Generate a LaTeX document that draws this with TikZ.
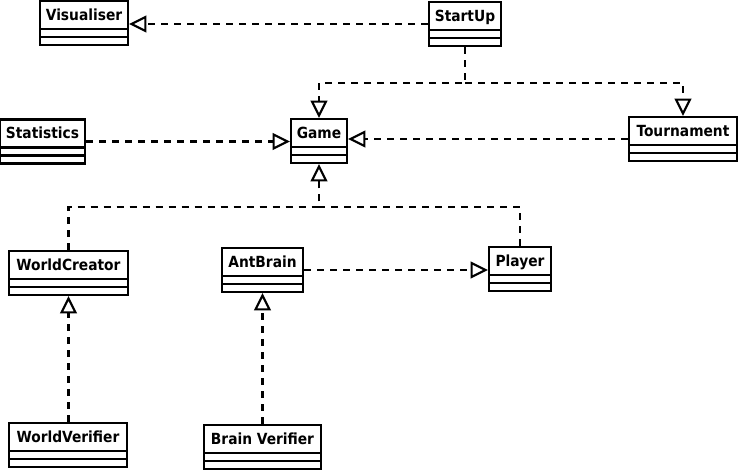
\documentclass[tikz,border=0pt]{standalone}
\usepackage{fontspec}
\setsansfont{DejaVu Sans Condensed}
\usepackage{tikz}
\usetikzlibrary{arrows.meta}

\begin{document}
\begin{tikzpicture}[x=0.75pt,y=0.75pt,yscale=-1,xscale=1,
  classbox/.style={draw, line width=1.6pt, rectangle, inner xsep=0pt, inner ysep=0pt,
    minimum height=33pt, text height=14.5pt, text depth=18.5pt,
    font=\sffamily\bfseries\fontsize{11.5}{13}\selectfont,
    path picture={\draw[line width=1.6pt]
      ([yshift=-21pt]path picture bounding box.north west) -- ([yshift=-21pt]path picture bounding box.north east)
      ([yshift=-27pt]path picture bounding box.north west) -- ([yshift=-27pt]path picture bounding box.north east);}},
  realize/.style={line width=1.6pt, dash pattern=on 5.25pt off 4.5pt,
    -{Triangle[open, length=13pt, width=12.5pt]}},
  plain/.style={line width=1.6pt, dash pattern=on 5.25pt off 4.5pt}]
\useasboundingbox (0,0) rectangle (740,472);

%Shape: Classes
\node[classbox, minimum width=66pt] (vis) at (84,23) {Visualiser};
\node[classbox, minimum width=54pt] (su) at (465,24) {StartUp};
\node[classbox, minimum width=42pt] (game) at (319,141) {Game};
\node[classbox, minimum width=63.75pt] (stat) at (42.5,141.5) {Statistics};
\node[classbox, minimum width=81pt] (tour) at (683,139) {Tournament};
\node[classbox, minimum width=89.25pt] (wc) at (68.5,273) {WorldCreator};
\node[classbox, minimum width=60.75pt] (ab) at (262.5,270) {AntBrain};
\node[classbox, minimum width=46.5pt] (pl) at (520,269) {Player};
\node[classbox, minimum width=88.5pt] (wv) at (68,445) {WorldVerifier};
\node[classbox, minimum width=87.75pt] (bv) at (262.5,447) {Brain Verifier};

%Fork points
\path (su.south) -- ++(0,36) coordinate (sufork);
\path (game.south) -- ++(0,43) coordinate (gamefork);

%Connectors
\draw[realize] (su.west) -- (su.west -| vis.east);
\draw[realize] (su.south) -- (sufork) -| (game.north);
\draw[realize] (sufork) -| (tour.north);
\draw[realize] (stat.east) -- (stat.east -| game.west);
\draw[realize] (tour.west) -- (tour.west -| game.east);
\draw[realize] (wc.north) |- (gamefork) -- (game.south);
\draw[plain] (pl.north) |- (gamefork);
\draw[realize] (ab.east) -- (ab.east -| pl.west);
\draw[realize] (wv.north -| wc.south) -- (wc.south);
\draw[realize] (bv.north) -- (ab.south);
\end{tikzpicture}
\end{document}
